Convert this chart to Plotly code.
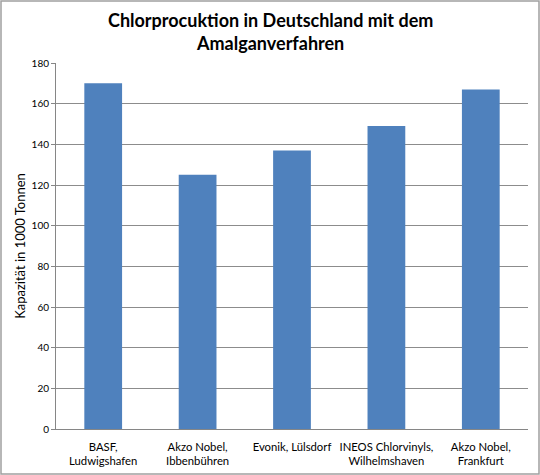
import plotly.graph_objects as go

categories = ["BASF,<br>Ludwigshafen", "Akzo Nobel,<br>Ibbenbühren", "Evonik, Lülsdorf",
              "INEOS Chlorvinyls,<br>Wilhelmshaven", "Akzo Nobel,<br>Frankfurt"]
values = [170, 125, 137, 149, 167]
y_ticks = [0, 20, 40, 60, 80, 100, 120, 140, 160, 180]
title_text = "<b>Chlorprocuktion in Deutschland mit dem<br>Amalganverfahren</b>"

W, H = 540, 475
ml, mr, mt, mb = 56, 12, 63, 46
pw, ph = W - ml - mr, H - mt - mb

fig = go.Figure(go.Bar(x=categories, y=values, marker=dict(color="#4F81BD", line=dict(width=0))))

fig.update_layout(
    width=W, height=H,
    margin=dict(l=ml, r=mr, t=mt, b=mb),
    paper_bgcolor="white", plot_bgcolor="white",
    bargap=0.6,
    showlegend=False,
    font=dict(family="Lato, Open Sans, sans-serif", color="#404040"),
    xaxis=dict(showgrid=False, showline=True, linecolor="#868686", linewidth=1,
               ticks="", ticklabelstandoff=7, automargin=False,
               tickfont=dict(size=11.3, color="#000000")),
    yaxis=dict(range=[0, 180], tickvals=y_ticks, showgrid=True, gridcolor="#8C8C8C",
               gridwidth=1, showline=True, linecolor="#868686", zeroline=False,
               ticks="outside", ticklen=4, tickcolor="#868686", automargin=False,
               tickfont=dict(size=10, color="#000000"),
               title=dict(text="Kapazität in 1000 Tonnen", font=dict(size=13, color="#000000"),
                          standoff=3)),
    annotations=[dict(text=title_text, xref="paper", yref="paper",
                      x=(W / 2 - ml) / pw, xanchor="center",
                      y=1 + (mt - 7) / ph, yanchor="top", showarrow=False,
                      font=dict(size=18, color="#000000"))],
    shapes=[dict(type="rect", xref="paper", yref="paper",
                 x0=-(ml - 1) / pw, x1=1 + (mr - 1) / pw,
                 y0=-(mb - 1) / ph, y1=1 + (mt - 1) / ph,
                 line=dict(color="#A0A0A0", width=1.5))],
)

fig.write_html("out.html", config={"displayModeBar": False},
               post_script="document.body.style.margin='0';")
